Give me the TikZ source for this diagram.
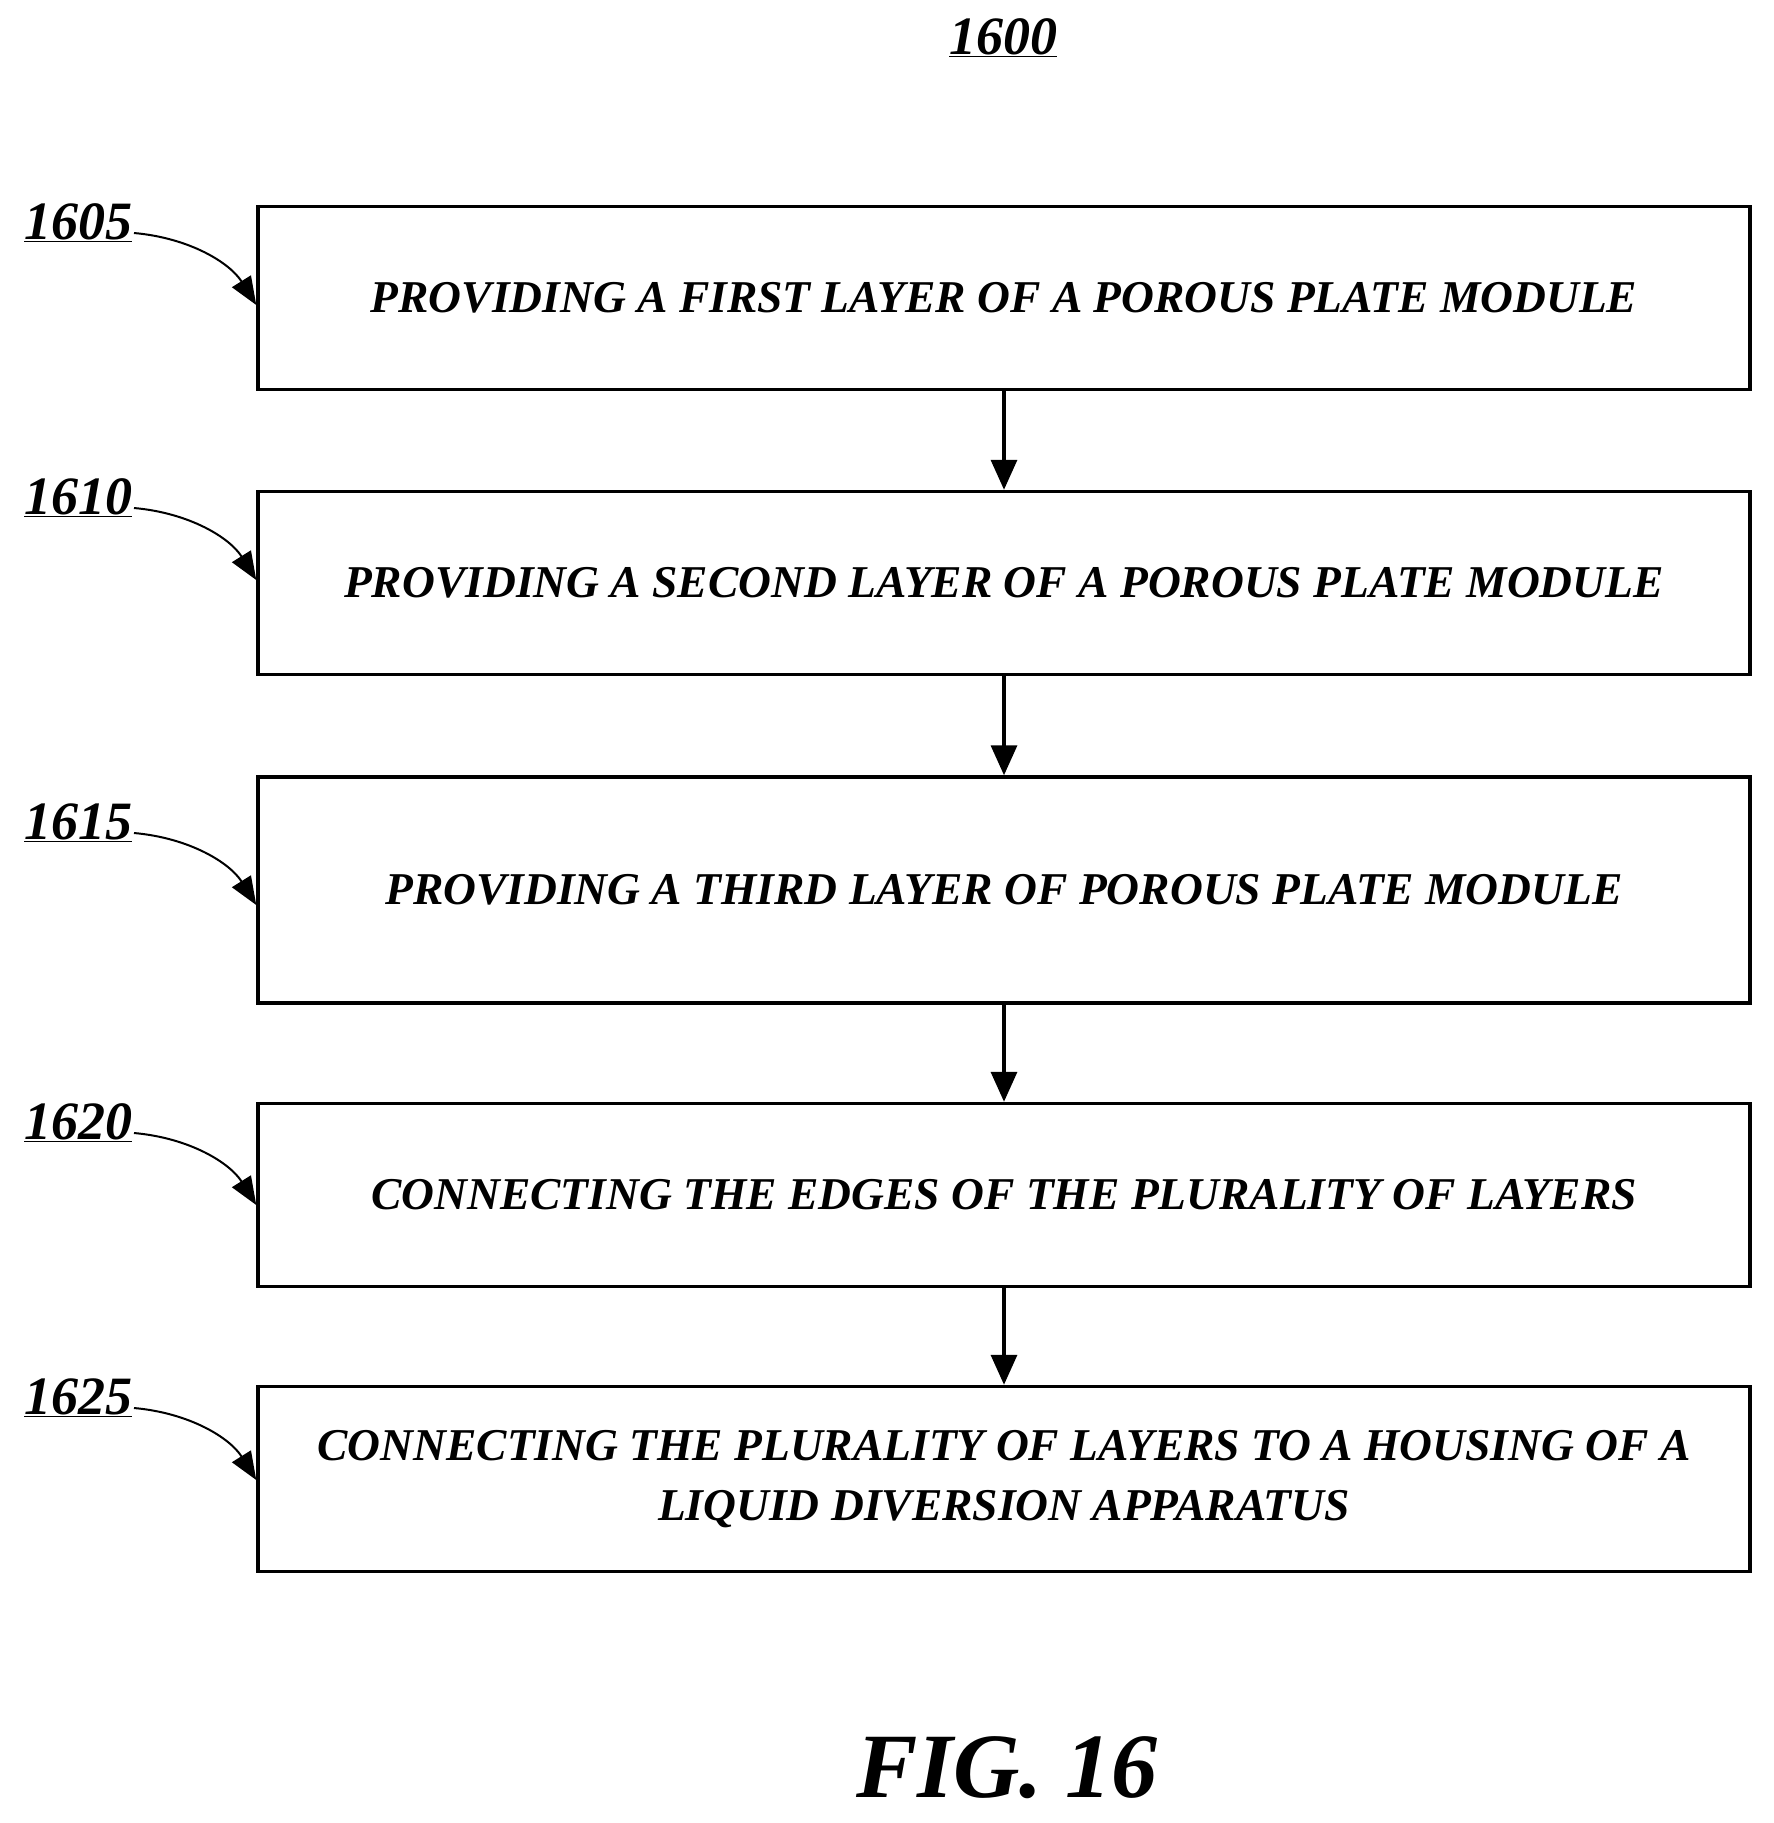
\documentclass[tikz,border=0pt]{standalone}
\usepackage{fontspec}
\setmainfont{Liberation Serif}
\usetikzlibrary{arrows.meta}
\begin{document}
\begin{tikzpicture}[x=1pt,y=-1pt,
  box/.style={draw,line width=3.5pt,minimum width=1492pt,inner sep=0pt,align=center,font=\fontsize{45.5}{60}\selectfont\bfseries\itshape},
  lab/.style={font=\fontsize{54}{60}\selectfont\bfseries\itshape},
  arr/.style={line width=3.5pt,-{Triangle[length=30pt,width=26pt]}},
  lead/.style={line width=2pt,-{Triangle[length=28pt,width=22pt]}}]
\useasboundingbox (0,0) rectangle (1773,1823);
\node[lab] (t) at (1003,38) {\underline{1600}};
\node[box,minimum height=183pt] (b1) at (1004,298) {PROVIDING A FIRST LAYER OF A POROUS PLATE MODULE};
\node[box,minimum height=183pt] (b2) at (1004,583) {PROVIDING A SECOND LAYER OF A POROUS PLATE MODULE};
\node[box,minimum height=226pt] (b3) at (1004,890) {PROVIDING A THIRD LAYER OF POROUS PLATE MODULE};
\node[box,minimum height=183pt] (b4) at (1004,1195) {CONNECTING THE EDGES OF THE PLURALITY OF LAYERS};
\node[box,minimum height=185pt] (b5) at (1004,1479) {CONNECTING THE PLURALITY OF LAYERS TO A HOUSING OF A\\LIQUID DIVERSION APPARATUS};
\draw[arr] (b1) -- (b2);
\draw[arr] (b2) -- (b3);
\draw[arr] (b3) -- (b4);
\draw[arr] (b4) -- (b5);
\foreach \n/\t/\y in {1/1605/223,2/1610/498,3/1615/823,4/1620/1123,5/1625/1398}{
  \node[lab] (l\n) at (78,\y) {\underline{\t}};
  \coordinate (s\n) at (134,\y+10);
  \draw[lead] (s\n) .. controls (190,\y+15) and (230,\y+40) .. (b\n.west |- 0,\y+82);
}
\node[font=\fontsize{92}{100}\selectfont\bfseries\itshape] (fig) at (1007,1768) {FIG. 16};
\end{tikzpicture}
\end{document}
